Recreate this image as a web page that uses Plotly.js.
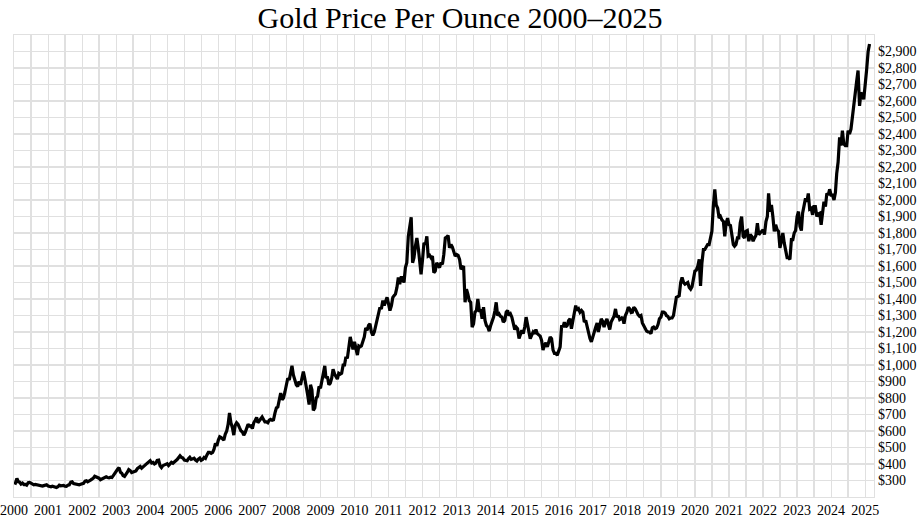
<!DOCTYPE html>
<html>
<head>
<meta charset="utf-8">
<script src="https://cdn.plot.ly/plotly-3.0.1.min.js"></script>
<style>
  html, body { margin: 0; padding: 0; background: #fff; }
  #chart { width: 920px; height: 521px; }
</style>
</head>
<body>
<div id="chart"></div>
<script>
// Gold price, USD per troy ounce, two readings per month (1st and 16th),
// Jan 2000 through Feb 2025.
const startYear = 2000;
const prices = [
  // 2000
  288, 284, 312, 293, 290, 278, 284, 276, 277, 272, 287, 288,
  284, 277, 274, 276, 274, 272, 270, 265, 266, 269, 272, 274,
  // 2001
  267, 264, 262, 266, 264, 258, 258, 262, 272, 268, 271, 270,
  266, 265, 272, 274, 290, 292, 282, 279, 278, 274, 274, 277,
  // 2002
  282, 283, 296, 298, 292, 300, 302, 308, 314, 326, 322, 318,
  314, 305, 310, 314, 320, 322, 318, 316, 320, 318, 330, 344,
  // 2003
  355, 368, 378, 350, 345, 330, 325, 335, 350, 366, 360, 348,
  350, 354, 358, 372, 380, 385, 375, 386, 390, 398, 405, 414,
  // 2004
  420, 406, 410, 400, 405, 422, 424, 389, 378, 390, 393, 396,
  402, 391, 400, 410, 405, 415, 420, 427, 438, 450, 440, 437,
  // 2005
  424, 424, 420, 433, 441, 428, 430, 435, 424, 418, 430, 436,
  422, 427, 440, 434, 455, 470, 470, 465, 470, 490, 525, 510,
  // 2006
  545, 565, 560, 555, 545, 580, 600, 640, 710, 650, 620, 575,
  635, 650, 640, 620, 600, 595, 575, 590, 620, 640, 630, 632,
  // 2007
  615, 650, 665, 682, 650, 662, 680, 685, 670, 655, 655, 650,
  665, 670, 665, 668, 710, 740, 745, 785, 830, 790, 800, 835,
  // 2008
  880, 920, 910, 950, 995, 940, 910, 880, 870, 900, 880, 920,
  960, 920, 850, 820, 760, 880, 850, 725, 740, 800, 810, 870,
  // 2009
  860, 910, 950, 995, 920, 930, 880, 890, 920, 975, 945, 930,
  915, 950, 945, 950, 1000, 1000, 1050, 1040, 1110, 1170, 1130, 1095,
  // 2010
  1140, 1090, 1060, 1115, 1110, 1115, 1150, 1170, 1225, 1210, 1240, 1250,
  1200, 1180, 1200, 1240, 1270, 1300, 1350, 1340, 1390, 1360, 1390, 1410,
  // 2011
  1370, 1330, 1360, 1410, 1420, 1430, 1470, 1530, 1490, 1530, 1530, 1500,
  1590, 1620, 1780, 1830, 1895, 1620, 1650, 1720, 1770, 1710, 1630, 1550,
  // 2012
  1640, 1740, 1730, 1780, 1660, 1665, 1650, 1660, 1560, 1570, 1620, 1600,
  1590, 1620, 1610, 1670, 1770, 1775, 1785, 1710, 1730, 1715, 1690, 1660,
  // 2013
  1670, 1665, 1640, 1580, 1590, 1600, 1380, 1460, 1430, 1390, 1380, 1230,
  1250, 1320, 1330, 1400, 1330, 1330, 1280, 1350, 1270, 1240, 1230, 1205,
  // 2014
  1240, 1260, 1290, 1330, 1380, 1300, 1310, 1295, 1290, 1260, 1270, 1320,
  1330, 1300, 1310, 1290, 1240, 1215, 1230, 1220, 1160, 1190, 1210, 1190,
  // 2015
  1230, 1290, 1240, 1210, 1160, 1180, 1200, 1190, 1215, 1190, 1180, 1175,
  1150, 1090, 1120, 1135, 1110, 1140, 1170, 1160, 1090, 1070, 1070, 1060,
  // 2016
  1090, 1110, 1240, 1230, 1260, 1230, 1240, 1270, 1280, 1220, 1270, 1320,
  1360, 1330, 1340, 1320, 1330, 1320, 1260, 1270, 1230, 1180, 1160, 1140,
  // 2017
  1180, 1200, 1230, 1255, 1200, 1250, 1280, 1265, 1230, 1260, 1280, 1245,
  1215, 1260, 1280, 1295, 1340, 1290, 1300, 1275, 1280, 1290, 1250, 1300,
  // 2018
  1320, 1350, 1340, 1318, 1320, 1350, 1340, 1320, 1305, 1295, 1300, 1255,
  1240, 1225, 1205, 1200, 1200, 1190, 1225, 1230, 1220, 1225, 1245, 1280,
  // 2019
  1290, 1320, 1320, 1315, 1300, 1295, 1280, 1285, 1285, 1300, 1350, 1410,
  1415, 1420, 1500, 1530, 1500, 1490, 1495, 1500, 1470, 1460, 1475, 1520,
  // 2020
  1570, 1575, 1600, 1640, 1480, 1620, 1700, 1700, 1720, 1730, 1730, 1780,
  1810, 1960, 2065, 1970, 1950, 1890, 1900, 1880, 1870, 1780, 1860, 1890,
  // 2021
  1850, 1845, 1790, 1730, 1720, 1730, 1770, 1770, 1860, 1900, 1780, 1770,
  1810, 1815, 1750, 1790, 1780, 1750, 1770, 1785, 1860, 1790, 1800, 1810,
  // 2022
  1820, 1790, 1870, 1900, 2040, 1930, 1970, 1900, 1810, 1850, 1820, 1810,
  1710, 1750, 1800, 1740, 1700, 1650, 1650, 1640, 1760, 1760, 1800, 1815,
  // 2023
  1900, 1930, 1840, 1815, 1920, 1980, 2010, 1990, 2040, 1945, 1950, 1910,
  1960, 1960, 1900, 1915, 1920, 1850, 1930, 1990, 1960, 2040, 2030, 2065,
  // 2024
  2030, 2030, 2000, 2045, 2160, 2230, 2380, 2330, 2420, 2340, 2330, 2330,
  2420, 2400, 2430, 2510, 2580, 2650, 2720, 2785, 2570, 2650, 2640, 2610,
  // 2025
  2690, 2790, 2900, 2945
];

const yearLabels = ['2000', '2001', '2002', '2003', '2004', '2005', '2006', '2007', '2008',
  '2009', '2010', '2011', '2012', '2013', '2014', '2015', '2016', '2017', '2018', '2019',
  '2020', '2021', '2022', '2023', '2024', '2025'];
const priceTicks = [300, 400, 500, 600, 700, 800, 900, 1000, 1100, 1200, 1300, 1400, 1500,
  1600, 1700, 1800, 1900, 2000, 2100, 2200, 2300, 2400, 2500, 2600, 2700, 2800, 2900];

// one date per reading: the 1st and the 16th of each month
const dates = prices.map((_, i) => {
  const m = Math.floor(i / 2);
  const y = startYear + Math.floor(m / 12);
  const mm = String(m % 12 + 1).padStart(2, '0');
  return `${y}-${mm}-${i % 2 === 0 ? '01' : '16'}`;
});

const gridColor = '#e0e0e0';
const serif = '"Liberation Serif", "Times New Roman", serif';

const trace = {
  x: dates,
  y: prices,
  type: 'scatter',
  mode: 'lines',
  line: { color: '#000', width: 3.2 },
  hoverinfo: 'none',
};

const layout = {
  width: 920,
  height: 521,
  margin: { l: 14, r: 46, t: 35, b: 24 },
  title: {
    text: 'Gold Price Per Ounce 2000–2025',
    font: { family: serif, size: 30, color: '#000' },
    x: 0.5,
    xanchor: 'center',
    yref: 'container',
    y: 0.966,
    yanchor: 'middle',
  },
  font: { family: serif, size: 14, color: '#000' },
  showlegend: false,
  xaxis: {
    type: 'date',
    range: ['2000-01-01', '2025-04-05'],
    tickvals: yearLabels.map(y => `${y}-01-01`),
    ticktext: yearLabels,
    showgrid: true,
    gridcolor: gridColor,
    gridwidth: 1.2,
    minor: { dtick: 'M6', tick0: '2000-01-01', showgrid: true, gridcolor: gridColor, gridwidth: 1.2 },
    showline: true,
    mirror: true,
    linecolor: gridColor,
    linewidth: 1.2,
    zeroline: false,
    ticks: '',
    fixedrange: true,
  },
  yaxis: {
    side: 'right',
    range: [200, 3000],
    tickvals: priceTicks,
    ticktext: priceTicks.map(v => '$' + v.toLocaleString('en-US')),
    showgrid: true,
    gridcolor: gridColor,
    gridwidth: 1.2,
    showline: true,
    mirror: true,
    linecolor: gridColor,
    linewidth: 1.2,
    zeroline: false,
    ticks: '',
    fixedrange: true,
  },
  paper_bgcolor: '#fff',
  plot_bgcolor: '#fff',
};

Plotly.newPlot('chart', [trace], layout, { displayModeBar: false, staticPlot: true });
</script>
</body>
</html>
